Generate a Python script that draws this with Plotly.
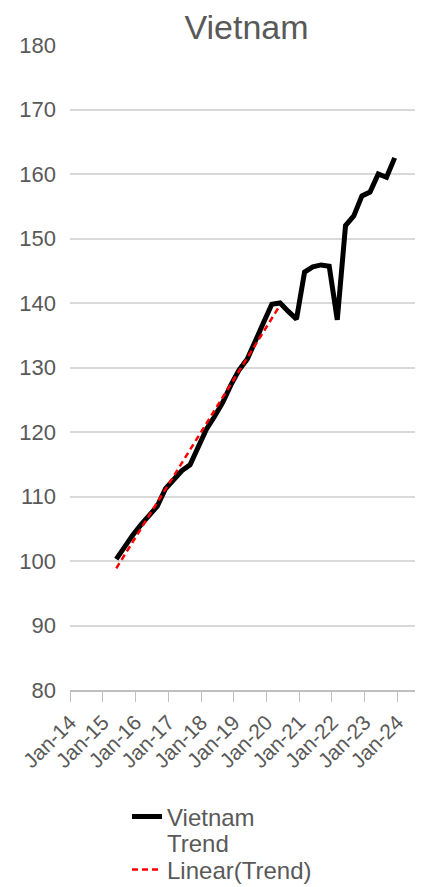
import numpy as np
import plotly.graph_objects as go

# Quarterly dates (first day of quarter-end month)
dates = [
    "2015-06-01", "2015-09-01", "2015-12-01",
    "2016-03-01", "2016-06-01", "2016-09-01", "2016-12-01",
    "2017-03-01", "2017-06-01", "2017-09-01", "2017-12-01",
    "2018-03-01", "2018-06-01", "2018-09-01", "2018-12-01",
    "2019-03-01", "2019-06-01", "2019-09-01", "2019-12-01",
    "2020-03-01", "2020-06-01", "2020-09-01", "2020-12-01",
    "2021-03-01", "2021-06-01", "2021-09-01", "2021-12-01",
    "2022-03-01", "2022-06-01", "2022-09-01", "2022-12-01",
    "2023-03-01", "2023-06-01", "2023-09-01", "2023-12-01",
]
vietnam = [
    100.3, 102.3, 104.0,
    105.6, 107.0, 108.5, 111.2,
    112.7, 114.0, 114.9, 117.8,
    120.4, 122.4, 124.6, 127.3,
    129.6, 131.3, 134.0, 137.0,
    139.8, 140.0, 138.7, 137.5,
    144.8, 145.6, 145.9, 145.7,
    137.4, 152.0, 153.5, 156.6,
    157.2, 160.0, 159.5, 162.5,
]
# "Trend" series: pre-COVID part of the series
trend_dates = dates[:21]
trend = vietnam[:21]

tick_vals = [f"{y}-01-01" for y in range(2014, 2025)]
tick_text = [f"Jan-{str(y)[2:]}" for y in range(2014, 2025)]

# Linear trendline fitted on the Trend series (like Excel's Linear(Trend))
idx = np.arange(len(trend))
slope, intercept = np.polyfit(idx, trend, 1)
lin_trend = list(slope * idx + intercept)

grey = "#595959"
font = "Liberation Sans, Arial, sans-serif"

# page has an 8px body margin, so the figure is a little smaller than the window
W, H = 415, 879
L, R, T, B = 62, 0, 37, 197
plot_w = W - L - R
plot_h = H - T - B


def py(y_px):
    """figure pixel row -> paper y"""
    return (H - B - y_px) / plot_h


leg_x = (119 - L) / plot_w
leg_font = dict(size=24, color=grey, family=font)


def leg(y_px):
    return dict(orientation="v", x=leg_x, xanchor="left", y=py(y_px), yanchor="middle",
                font=leg_font, itemwidth=30, bgcolor="rgba(0,0,0,0)")


fig = go.Figure()
fig.add_trace(go.Scatter(x=dates, y=vietnam, mode="lines", name="Vietnam",
                         line=dict(color="black", width=5), legend="legend"))
fig.add_trace(go.Scatter(x=trend_dates, y=trend, mode="lines", name="Trend",
                         line=dict(color="rgba(0,0,0,0)", width=1), legend="legend2"))
fig.add_trace(go.Scatter(x=trend_dates, y=lin_trend, mode="lines", name="Linear(Trend)",
                         line=dict(color="#ff0000", width=2.5, dash="6px,4px"),
                         legend="legend3"))

fig.update_layout(
    width=W, height=H,
    margin=dict(l=L, r=R, t=T, b=B, autoexpand=False),
    paper_bgcolor="white", plot_bgcolor="white",
    font=dict(family=font, color=grey),
    title=dict(text="Vietnam", x=0.5, xref="paper", xanchor="center",
               y=1 - 19 / H, yref="container", yanchor="middle",
               font=dict(size=34, color=grey, family=font)),
    showlegend=True,
    legend=leg(809),
    legend2=leg(835),
    legend3=leg(862),
    xaxis=dict(type="date", range=["2014-01-01", "2024-10-12"],
               tickvals=tick_vals, ticktext=tick_text, tickangle=-45,
               ticks="outside", ticklen=10, tickcolor="#bfbfbf", tickwidth=1,
               showline=True, linecolor="#bfbfbf", linewidth=1.5,
               showgrid=False, zeroline=False,
               tickfont=dict(size=21, color=grey, family=font)),
    yaxis=dict(range=[80, 180], dtick=10, tick0=80,
               showgrid=True, gridcolor="#d9d9d9", gridwidth=1.5,
               zeroline=False, showline=False, ticks="",
               ticklabelstandoff=13,
               tickfont=dict(size=22, color=grey, family=font)),
)

fig.write_html("out.html")
